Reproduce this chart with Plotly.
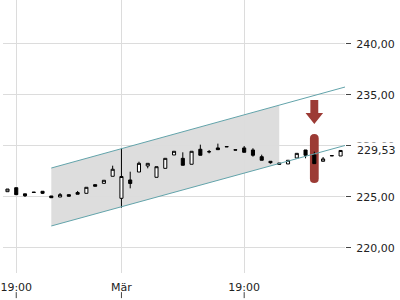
import plotly.graph_objects as go

# ---------------- data ----------------
idx = list(range(39))
opens = [225.49, 225.88, 225.28, 225.45, 225.53, 225.07, 224.97, 225.20, 225.41, 225.33,
         226.18, 226.31, 227.00, 224.84, 226.64, 227.42, 228.01, 226.90, 227.78, 229.09,
         228.76, 228.18, 229.65, 229.42, 229.78, 229.92, 229.60, 229.78, 229.58, 228.92,
         228.47, 228.30, 228.21, 228.79, 229.58, 229.09, 228.47, 229.03, 228.99]
closes = [225.75, 225.20, 225.09, 225.42, 225.33, 224.90, 225.20, 225.04, 225.24, 225.92,
          226.02, 226.61, 227.69, 226.98, 226.29, 228.27, 228.27, 227.94, 228.76, 229.45,
          228.08, 229.45, 229.06, 229.40, 229.61, 229.89, 229.57, 229.35, 229.06, 228.57,
          228.33, 228.18, 228.57, 229.25, 229.06, 228.24, 228.70, 229.01, 229.53]
highs = [225.75, 225.88, 225.28, 225.45, 225.53, 225.07, 225.36, 225.20, 225.56, 225.92,
         226.18, 226.61, 228.04, 229.75, 227.45, 228.43, 228.27, 227.94, 228.76, 229.45,
         229.35, 229.45, 230.10, 229.58, 230.20, 229.92, 229.60, 229.97, 229.75, 229.12,
         228.47, 228.30, 228.57, 229.25, 229.58, 229.41, 228.89, 229.03, 229.53]
lows = [225.49, 225.20, 224.97, 225.42, 225.26, 224.90, 224.97, 225.04, 225.24, 225.33,
        226.02, 226.31, 227.00, 223.92, 225.82, 227.42, 227.78, 226.90, 227.78, 229.09,
        228.08, 228.18, 229.06, 229.25, 229.61, 229.89, 229.57, 229.35, 228.92, 228.57,
        228.24, 228.18, 228.21, 228.79, 228.76, 228.24, 228.47, 229.01, 228.99]

tick_pos = [1, 13, 27]
tick_text = ["19:00", "Mär", "19:00"]
y_ticks = [220, 225, 230, 235, 240]

# trend channel
chan_x = [5, 38.5]
chan_upper = [227.81, 235.75]
chan_lower = [222.13, 230.02]
shade_x = [5, 31]

last_price = 229.53
signal_idx = 35

# ---------------- helpers ----------------
def on_line(xs, ys, x):
    return ys[0] + (ys[1] - ys[0]) * (x - xs[0]) / (xs[1] - xs[0])

fig = go.Figure()

fig.add_trace(go.Scatter(x=chan_x, y=chan_upper, mode="lines",
                         line=dict(color="#62a3aa", width=1), hoverinfo="skip", showlegend=False))
fig.add_trace(go.Scatter(x=chan_x, y=chan_lower, mode="lines",
                         line=dict(color="#62a3aa", width=1), hoverinfo="skip", showlegend=False))

fig.add_trace(go.Candlestick(
    x=idx, open=opens, high=highs, low=lows, close=closes,
    increasing=dict(line=dict(color="black", width=1), fillcolor="white"),
    decreasing=dict(line=dict(color="black", width=1), fillcolor="black"),
    whiskerwidth=0, showlegend=False, hoverinfo="skip"))

# shaded channel region
sx0, sx1 = shade_x
u0, u1 = on_line(chan_x, chan_upper, sx0), on_line(chan_x, chan_upper, sx1)
l0, l1 = on_line(chan_x, chan_lower, sx0), on_line(chan_x, chan_lower, sx1)
shapes = [dict(type="path", xref="x", yref="y", layer="below",
               path=f"M {sx0},{l0} L {sx0},{u0} L {sx1},{u1} L {sx1},{l1} Z",
               fillcolor="#dddddd", line=dict(width=0))]

# signal pill
red = "#9c3b35"
px0, px1 = signal_idx - 0.5, signal_idx + 0.5
pm = signal_idx
yt, yb, r = 231.15, 226.34, 0.45
pill = (f"M {px0},{yb + r} L {px0},{yt - r} Q {px0},{yt} {pm},{yt} Q {px1},{yt} {px1},{yt - r} "
        f"L {px1},{yb + r} Q {px1},{yb} {pm},{yb} Q {px0},{yb} {px0},{yb + r} Z")
shapes.append(dict(type="path", xref="x", yref="y", layer="between", path=pill,
                   fillcolor=red, line=dict(width=0)))

# arrow
a_top, a_mid, a_tip = 234.48, 233.21, 232.13
sw, hw = 0.45, 1.0
arrow = (f"M {pm - sw},{a_top} L {pm + sw},{a_top} L {pm + sw},{a_mid} L {pm + hw},{a_mid} "
         f"L {pm},{a_tip} L {pm - hw},{a_mid} L {pm - sw},{a_mid} Z")
shapes.append(dict(type="path", xref="x", yref="y", layer="between", path=arrow,
                   fillcolor=red, line=dict(width=0)))

# x tick marks below labels
for t in tick_pos:
    shapes.append(dict(type="line", xref="x", yref="paper", x0=t, x1=t, y0=-0.07, y1=-0.092,
                       line=dict(color="#444", width=1)))

fig.update_layout(
    width=400, height=300,
    margin=dict(l=0, r=55, t=0, b=27),
    paper_bgcolor="white", plot_bgcolor="rgba(0,0,0,0)",
    separators=",.",
    boxgap=0.5,
    font=dict(family="DejaVu Sans", size=11, color="#222"),
    shapes=shapes,
    showlegend=False,
    annotations=[dict(x=1, xref="paper", y=last_price, yref="y", xanchor="left", xshift=10,
                      text=f"{last_price:.2f}".replace(".", ","), showarrow=False,
                      bgcolor="white", font=dict(size=11, color="#222"))],
)
fig.update_xaxes(range=[-0.51, 38.5], tickvals=tick_pos, ticktext=tick_text,
                 showgrid=True, gridcolor="#dcdcdc", gridwidth=1, zeroline=False,
                 showline=False, ticks="", rangeslider_visible=False,
                 ticklabeloverflow="allow", ticklabelstandoff=6)
fig.update_yaxes(range=[217.52, 244.28], side="right", tickvals=y_ticks, tickformat=".2f",
                 showgrid=True, gridcolor="#dcdcdc", gridwidth=1, zeroline=False,
                 showline=False, ticks="outside", ticklen=5, tickcolor="#444",
                 ticklabelstandoff=3)

fig.write_html("out.html")
